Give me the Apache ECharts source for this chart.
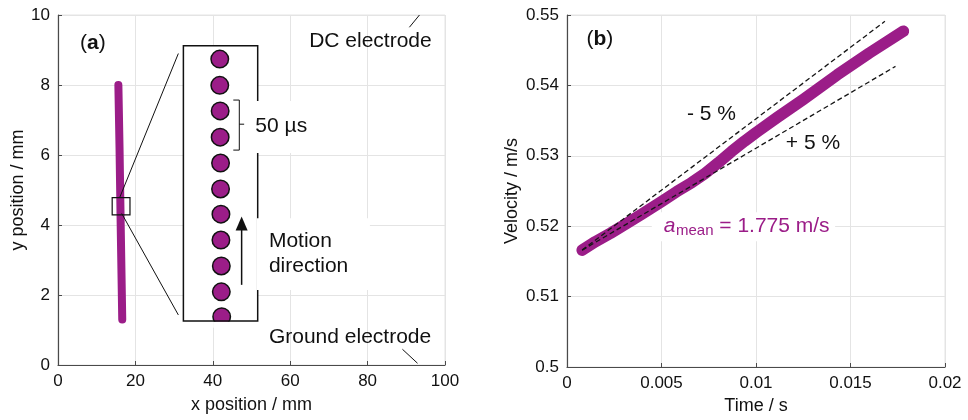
<!DOCTYPE html>
<html>
<head>
<meta charset="utf-8">
<script src="https://cdn.jsdelivr.net/npm/echarts@6/dist/echarts.min.js"></script>
<style>
  html, body { margin: 0; padding: 0; background: #ffffff; }
  #chart { width: 968px; height: 420px; }
</style>
</head>
<body>
<div id="chart"></div>
<script>
// ---- (a) droplet track between the electrodes (mm) ----
const trackX = [15.6, 15.9, 16.2, 16.6];
const trackY = [8.0, 6.2, 4.0, 1.3];

// droplet positions in successive frames shown in the magnified inset
const frameX = [41.8, 41.8, 41.9, 41.9, 42.0, 42.0, 42.1, 42.1, 42.2, 42.2, 42.3];
const frameY = [8.74, 7.99, 7.26, 6.51, 5.77, 5.03, 4.31, 3.57, 2.83, 2.09, 1.38];

// ---- (b) droplet velocity over time ----
const time = [0.0008, 0.0015, 0.0023, 0.0031, 0.0040, 0.0050, 0.0058, 0.0066, 0.0073,
              0.0080, 0.0087, 0.0094, 0.0100, 0.0111, 0.0125, 0.0143, 0.0160, 0.0178];
const velocity = [0.5166, 0.5178, 0.5190, 0.5203, 0.5218, 0.5235, 0.5249, 0.5262, 0.5275,
                  0.5290, 0.5306, 0.5321, 0.5333, 0.5354, 0.5380, 0.5415, 0.5446, 0.5477];

// -5 % / +5 % bounds around the mean acceleration
const upperTime = [0.0008, 0.01682];
const upperVel = [0.5166, 0.5491];
const lowerTime = [0.0008, 0.01738];
const lowerVel = [0.5166, 0.5427];

// ---- tick values ----
const xTicksA = [0, 20, 40, 60, 80, 100];
const yTicksA = [0, 2, 4, 6, 8, 10];
const xTicksB = [0, 0.005, 0.01, 0.015, 0.02];
const yTicksB = [0.5, 0.51, 0.52, 0.53, 0.54, 0.55];

const FONT = '"Liberation Sans", Arial, sans-serif';
const PURPLE = '#9B1D88';
const INK = '#111111';
const AXIS = '#4a4a4a';
const GRID = '#e4e4e4';

const zip = (xs, ys) => xs.map((x, i) => [x, ys[i]]);

function tickLabel(ticks, v) {
  let best = ticks[0];
  ticks.forEach(t => { if (Math.abs(t - v) < Math.abs(best - v)) best = t; });
  return String(best);
}

function valueAxis(ticks, gridIndex, name, nameGap) {
  return {
    type: 'value',
    gridIndex: gridIndex,
    min: ticks[0],
    max: ticks[ticks.length - 1],
    interval: +(ticks[1] - ticks[0]).toFixed(6),
    name: name,
    nameLocation: 'middle',
    nameGap: nameGap,
    nameTextStyle: { color: INK, fontSize: 18, fontFamily: FONT },
    axisLine: { show: true, onZero: false, lineStyle: { color: AXIS, width: 1.2 } },
    axisTick: { show: true, inside: true, length: 4, lineStyle: { color: AXIS } },
    splitLine: { show: true, lineStyle: { color: GRID, width: 1 } },
    axisLabel: {
      color: INK, fontSize: 17, fontFamily: FONT, margin: 8,
      formatter: v => tickLabel(ticks, v)
    }
  };
}

// text width helper for placing the subscript
const measureCtx = document.createElement('canvas').getContext('2d');
function textWidth(str, font) {
  measureCtx.font = font;
  return measureCtx.measureText(str).width;
}

function txt(x, y, text, opts) {
  return Object.assign({
    type: 'text', x: x, y: y, z2: 20,
    style: Object.assign({
      text: text, fill: INK, font: '21px ' + FONT,
      align: 'left', verticalAlign: 'middle',
      textAlign: 'left', textVerticalAlign: 'middle'
    }, opts || {})
  });
}
function seg(a, b, width, z2) {
  return {
    type: 'line', z2: z2 || 5,
    shape: { x1: a[0], y1: a[1], x2: b[0], y2: b[1] },
    style: { stroke: INK, lineWidth: width || 1, fill: null }
  };
}
function rectBetween(a, b) {
  return {
    x: Math.min(a[0], b[0]), y: Math.min(a[1], b[1]),
    width: Math.abs(b[0] - a[0]), height: Math.abs(b[1] - a[1])
  };
}

// annotation geometry of panel (a), in data units
const insetBox = { x0: 32.4, x1: 51.6, y0: 1.26, y1: 9.12 };
const zoomSquare = { x0: 14.0, x1: 18.6, y0: 4.29, y1: 4.78 };

// magnifier frame: white inset box, connecting lines and the small square
function renderInsetFrame(params, api) {
  const c = p => api.coord(p);
  return {
    type: 'group',
    children: [
      { type: 'rect', z2: 1,
        shape: rectBetween(c([insetBox.x0, insetBox.y1]), c([insetBox.x1, insetBox.y0])),
        style: { fill: '#ffffff', stroke: null } },
      seg(c([16.0, 4.80]), c([31.1, 8.90]), 1),
      seg(c([16.46, 4.33]), c([31.1, 1.43]), 1),
      { type: 'rect', z2: 5,
        shape: rectBetween(c([zoomSquare.x0, zoomSquare.y1]), c([zoomSquare.x1, zoomSquare.y0])),
        style: { fill: null, stroke: INK, lineWidth: 1.2 } }
    ]
  };
}

// labels, arrow, bracket and outline drawn above the droplet frames
function renderInsetOverlay(params, api) {
  const c = p => api.coord(p);
  const boxTL = c([insetBox.x0, insetBox.y1]);
  const boxBR = c([insetBox.x1, insetBox.y0]);
  const last = c([frameX[frameX.length - 1], frameY[frameY.length - 1]]);
  const tip = c([47.45, 4.24]);
  const tail = c([47.45, 2.29]);
  const children = [
    // keeps the lowest droplet inside the frame
    { type: 'rect', z2: 1,
      shape: { x: last[0] - 8.5, y: boxBR[1] + 0.8, width: 19, height: 6 },
      style: { fill: '#ffffff', stroke: null } },
    { type: 'rect', z2: 2,
      shape: rectBetween(boxTL, boxBR),
      style: { fill: null, stroke: INK, lineWidth: 1.5 } },
    // white backgrounds of the labels
    { type: 'rect', z2: 3,
      shape: rectBetween(c([50.9, 7.54]), c([67.0, 6.06])),
      style: { fill: '#ffffff', stroke: null } },
    { type: 'rect', z2: 3,
      shape: rectBetween(c([51.4, 4.19]), c([80.6, 2.14])),
      style: { fill: '#ffffff', stroke: null } },
    // bracket spanning one frame interval
    seg(c([45.3, 7.57]), c([46.85, 7.57]), 1),
    seg(c([46.85, 7.57]), c([46.85, 6.14]), 1),
    seg(c([45.3, 6.14]), c([46.85, 6.14]), 1),
    seg(c([46.85, 6.88]), c([48.1, 6.88]), 1),
    // motion direction arrow
    seg(tail, [tip[0], tip[1] + 12], 1.5),
    { type: 'polygon', z2: 6,
      shape: { points: [[tip[0], tip[1]], [tip[0] - 6, tip[1] + 14], [tip[0] + 6, tip[1] + 14]] },
      style: { fill: INK, stroke: null } },
    // electrode leader lines
    seg(c([90.8, 9.65]), c([93.4, 10.0]), 1),
    seg(c([89.0, 0.45]), c([92.9, 0.05]), 1)
  ];
  const pA = c([5.7, 9.2]);
  children.push(txt(pA[0], pA[1], '{r|(}{b|a}{r|)}', {
    rich: {
      r: { fontSize: 21, fontFamily: FONT, fill: INK },
      b: { fontSize: 21, fontFamily: FONT, fontWeight: 'bold', fill: INK }
    }
  }));
  const p50 = c([51.0, 6.83]);
  children.push(txt(p50[0], p50[1], '50 µs'));
  const pM = c([54.5, 3.55]);
  children.push(txt(pM[0], pM[1], 'Motion'));
  const pD = c([54.5, 2.81]);
  children.push(txt(pD[0], pD[1], 'direction'));
  const pDC = c([64.9, 9.26]);
  children.push(txt(pDC[0], pDC[1], 'DC electrode'));
  const pG = c([54.5, 0.80]);
  children.push(txt(pG[0], pG[1], 'Ground electrode'));
  return { type: 'group', children: children };
}

// a_mean label geometry (panel b)
const meanLabelAt = [0.00512, 0.52001];
const fa = 'italic 21px ' + FONT;
const fs = '15px ' + FONT;
const fm = '21px ' + FONT;
const wa = textWidth('a', fa);
const ws = textWidth('mean', fs);
const wm = textWidth(' = 1.775 m/s', fm);

// white patch behind the a_mean label, drawn below the curves
function renderMeanBackground(params, api) {
  const pa = api.coord(meanLabelAt);
  return {
    type: 'rect',
    shape: { x: pa[0] - 12, y: pa[1] - 14, width: wa + ws + wm + 18, height: 29 },
    style: { fill: '#ffffff', stroke: null }
  };
}

// labels of panel (b)
function renderVelocityLabels(params, api) {
  const c = p => api.coord(p);
  const children = [];
  const pB = c([0.00103, 0.54656]);
  children.push(txt(pB[0], pB[1], '{r|(}{b|b}{r|)}', {
    rich: {
      r: { fontSize: 21, fontFamily: FONT, fill: INK },
      b: { fontSize: 21, fontFamily: FONT, fontWeight: 'bold', fill: INK }
    }
  }));
  const pMinus = c([0.00635, 0.53584]);
  children.push(txt(pMinus[0], pMinus[1], '- 5 %'));
  const pPlus = c([0.01158, 0.53183]);
  children.push(txt(pPlus[0], pPlus[1], '+ 5 %'));

  const pa = c(meanLabelAt);
  children.push(txt(pa[0], pa[1], 'a', { font: fa, fill: PURPLE }));
  children.push(txt(pa[0] + wa + 0.5, pa[1] + 5, 'mean', { font: fs, fill: PURPLE }));
  children.push(txt(pa[0] + wa + ws + 0.5, pa[1], ' = 1.775 m/s', { font: fm, fill: PURPLE }));
  return { type: 'group', children: children };
}

const chart = echarts.init(document.getElementById('chart'), null, { renderer: 'canvas' });

const gridStyle = { show: true, borderColor: GRID, borderWidth: 1, backgroundColor: 'transparent', containLabel: false };

chart.setOption({
  animation: false,
  backgroundColor: '#ffffff',
  textStyle: { fontFamily: FONT },
  grid: [
    Object.assign({ left: 58, top: 15, width: 387, height: 350 }, gridStyle),
    Object.assign({ left: 567, top: 15, width: 378, height: 353 }, gridStyle)
  ],
  xAxis: [
    valueAxis(xTicksA, 0, 'x position / mm', 31),
    valueAxis(xTicksB, 1, 'Time / s', 30)
  ],
  yAxis: [
    valueAxis(yTicksA, 0, 'y position / mm', 30),
    valueAxis(yTicksB, 1, 'Velocity / m/s', 46)
  ],
  series: [
    {
      name: 'track', type: 'line', xAxisIndex: 0, yAxisIndex: 0,
      data: zip(trackX, trackY), symbol: 'none', silent: true, z: 2,
      lineStyle: { color: PURPLE, width: 8, cap: 'round', join: 'round' }
    },
    {
      name: 'inset frame', type: 'custom', xAxisIndex: 0, yAxisIndex: 0,
      data: [[0, 0]], renderItem: renderInsetFrame, silent: true, z: 3
    },
    {
      name: 'frames', type: 'scatter', xAxisIndex: 0, yAxisIndex: 0,
      data: zip(frameX, frameY), symbol: 'circle', symbolSize: 17.5, silent: true, z: 4,
      itemStyle: { color: PURPLE, borderColor: INK, borderWidth: 1.5, opacity: 1 }
    },
    {
      name: 'inset overlay', type: 'custom', xAxisIndex: 0, yAxisIndex: 0,
      data: [[0, 0]], renderItem: renderInsetOverlay, silent: true, z: 5
    },
    {
      name: 'label patch', type: 'custom', xAxisIndex: 1, yAxisIndex: 1,
      data: [[0, 0]], renderItem: renderMeanBackground, silent: true, z: 1
    },
    {
      name: 'velocity', type: 'line', xAxisIndex: 1, yAxisIndex: 1,
      data: zip(time, velocity), symbol: 'none', silent: true, z: 2,
      lineStyle: { color: PURPLE, width: 11.5, cap: 'round', join: 'round' }
    },
    {
      name: '-5 %', type: 'line', xAxisIndex: 1, yAxisIndex: 1,
      data: zip(upperTime, upperVel), symbol: 'none', silent: true, z: 3,
      lineStyle: { color: '#151515', width: 1.3, type: [5, 3] }
    },
    {
      name: '+5 %', type: 'line', xAxisIndex: 1, yAxisIndex: 1,
      data: zip(lowerTime, lowerVel), symbol: 'none', silent: true, z: 3,
      lineStyle: { color: '#151515', width: 1.3, type: [5, 3] }
    },
    {
      name: 'labels b', type: 'custom', xAxisIndex: 1, yAxisIndex: 1,
      data: [[0, 0]], renderItem: renderVelocityLabels, silent: true, z: 4
    }
  ]
});
</script>
</body>
</html>
